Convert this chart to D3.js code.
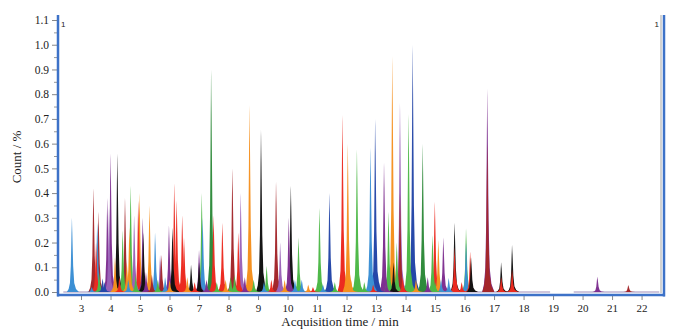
<!DOCTYPE html>
<html><head><meta charset="utf-8">
<script src="https://cdn.jsdelivr.net/npm/d3@7"></script>
<style>
body{margin:0;background:#fff}
svg{display:block}
text{font-family:"Liberation Serif","Times New Roman",serif;fill:#222}
</style>
</head><body>
<svg id="c" width="679" height="331"></svg>
<script>
// ---- data (retention time in min, height in %, colour key) ----
const peakTimes = [
 2.69,3.36,3.42,3.51,3.55,3.59,3.61,3.73,3.80,3.89,3.95,4.00,4.15,4.23,4.30,4.41,4.49,4.55,4.60,4.64,4.68,4.80,4.85,4.94,4.98,
 5.09,5.11,5.20,5.32,5.40,5.51,5.60,5.68,5.72,5.85,5.98,6.00,6.10,6.16,6.24,6.43,6.49,6.60,6.73,6.85,7.00,7.00,7.09,7.12,7.25,
 7.41,7.49,7.60,7.79,7.90,8.07,8.13,8.20,8.33,8.41,8.55,8.71,8.85,9.10,9.20,9.29,9.45,9.61,9.75,9.90,10.04,10.11,10.25,10.37,10.48,
 10.70,10.86,11.08,11.20,11.42,11.60,11.86,12.04,12.15,12.35,12.60,12.81,12.90,12.97,13.10,13.27,13.35,13.42,13.55,13.59,13.70,13.81,13.81,13.90,
 14.10,14.24,14.35,14.58,14.75,14.91,14.99,15.00,15.11,15.20,15.28,15.46,15.66,15.66,15.72,15.90,16.05,16.05,16.19,16.22,16.77,16.77,17.24,17.24,17.61,17.61,
 20.50,21.55
];
const peakHeights = [
 0.30,0.02,0.42,0.20,0.28,0.325,0.08,0.055,0.04,0.38,0.34,0.56,0.14,0.56,0.06,0.25,0.38,0.12,0.05,0.26,0.43,0.31,0.07,0.37,0.40,
 0.30,0.24,0.08,0.35,0.07,0.24,0.05,0.15,0.15,0.06,0.27,0.05,0.26,0.44,0.37,0.31,0.22,0.06,0.11,0.04,0.17,0.12,0.40,0.30,0.05,
 0.90,0.31,0.04,0.28,0.05,0.06,0.50,0.07,0.24,0.40,0.06,0.756,0.05,0.655,0.04,0.105,0.05,0.446,0.20,0.05,0.30,0.43,0.05,0.22,0.05,
 0.03,0.02,0.34,0.03,0.40,0.04,0.716,0.60,0.05,0.577,0.04,0.584,0.03,0.70,0.04,0.524,0.05,0.325,0.954,0.12,0.20,0.765,0.40,0.06,
 0.72,1.00,0.05,0.60,0.06,0.23,0.365,0.04,0.21,0.05,0.22,0.057,0.28,0.18,0.05,0.04,0.257,0.20,0.163,0.14,0.823,0.60,0.12,0.06,0.19,0.09,
 0.062,0.028
];
const peakColors = [
 "blue","blue","darkred","red","blue","darkred","green","navy","navy","purple","lightpurple","purple","orange","black","red","green","darkred","orange","blue","orange","green","lightpurple","green","red","orange",
 "purple","black","purple","orange","darkred","blue","green","lightpurple","darkred","blue","purple","orange","black","red","red","red","red","orange","black","red","purple","black","green","blue","purple",
 "darkgreen","red","green","red","orange","green","darkred","green","red","lightpurple","purple","orange","green","black","blue","green","red","darkred","lightpurple","orange","purple","black","blue","green","blue",
 "orange","red","green","blue","navy","green","red","orange","orange","green","green","blue","red","navy","navy","purple","purple","green","orange","black","green","lightpurple","darkred","red",
 "green","navy","orange","darkgreen","purple","green","red","green","orange","blue","purple","blue","black","red","red","red","green","blue","red","black","purple","darkred","black","red","black","red",
 "purple","darkred"
];
const xTickValues = [3,4,5,6,7,8,9,10,11,12,13,14,15,16,17,18,19,20,21,22];
const yTickValues = [0,0.1,0.2,0.3,0.4,0.5,0.6,0.7,0.8,0.9,1.0,1.1];
const baselineSegments = [[2.4,18.9],[19.7,22.6]];
const xTitle = "Acquisition time / min";
const yTitle = "Count / %";

// ---- styles ----
const palette = {
 blue:"#3b8fd4", red:"#ec2a1f", green:"#4db847", purple:"#7e2f90", lightpurple:"#9a62b8",
 black:"#111111", orange:"#f5901e", darkred:"#a3262a", navy:"#2446a8", darkgreen:"#2e8a3a"
};
// peak template: [offset in min, fraction of height]
const peakShape = [[-0.17,0],[-0.11,0.04],[-0.065,0.12],[-0.036,0.35],[-0.018,0.7],[-0.005,0.96],[0,1],[0.006,0.96],[0.022,0.7],[0.044,0.35],[0.08,0.12],[0.14,0.04],[0.24,0]];

const svg = d3.select("#c");
const x = d3.scaleLinear().domain([2.22,22.76]).range([58,664]);
const y = d3.scaleLinear().domain([0,1.1]).range([292,20]);

const defs = svg.append("defs");
Object.entries(palette).forEach(([k,c])=>{
  const g = defs.append("linearGradient").attr("id","g_"+k).attr("x1",0).attr("y1",0).attr("x2",0).attr("y2",1);
  g.append("stop").attr("offset","0").attr("stop-color",c).attr("stop-opacity",0.55);
  g.append("stop").attr("offset","0.2").attr("stop-color",c).attr("stop-opacity",0.95);
  g.append("stop").attr("offset","1").attr("stop-color",c).attr("stop-opacity",1);
});
defs.append("clipPath").attr("id","clip").append("rect").attr("x",59).attr("y",15).attr("width",603).attr("height",279);

// baseline
svg.append("g").selectAll("line").data(baselineSegments).join("line")
  .attr("x1",d=>x(d[0])).attr("x2",d=>x(d[1])).attr("y1",y(0)).attr("y2",y(0))
  .attr("stroke","#cfc6dc").attr("stroke-width",2);

// peaks
const peaks = peakTimes.map((t,i)=>({t,h:peakHeights[i],c:peakColors[i]}))
  .sort((a,b)=>b.h-a.h);
const area = d3.area().x(d=>x(d[0])).y0(y(0)).y1(d=>y(d[1])).curve(d3.curveLinear);
svg.append("g").attr("clip-path","url(#clip)").selectAll("path").data(peaks).join("path")
  .attr("d",p=>area(peakShape.map(s=>[p.t+s[0], s[1]*p.h])))
  .attr("fill",p=>"url(#g_"+p.c+")");

// y axis
const yAx = svg.append("g").attr("transform","translate(57,0)")
  .call(d3.axisLeft(y).tickValues(yTickValues).tickSize(5).tickPadding(3).tickFormat(d3.format(".1f")));
yAx.select(".domain").remove();
yAx.selectAll("line").attr("stroke","#888");
yAx.selectAll("text").style("font-size","11.5px").style("font-family","Liberation Serif, serif").attr("fill","#222");
const yMin = svg.append("g").attr("transform","translate(57,0)")
  .call(d3.axisLeft(y).tickValues(yTickValues.slice(0,-1).map(v=>v+0.05)).tickSize(3).tickFormat(""));
yMin.select(".domain").remove();
yMin.selectAll("line").attr("stroke","#999");

// x axis
const xAx = svg.append("g").attr("transform","translate(0,296)")
  .call(d3.axisBottom(x).tickValues(xTickValues).tickSize(4).tickPadding(4).tickFormat(d3.format("d")));
xAx.select(".domain").remove();
xAx.selectAll("line").attr("stroke","#888");
xAx.selectAll("text").style("font-size","11px").style("font-family","Liberation Serif, serif").attr("fill","#222");

// frame
const blue = "#3d72c8";
svg.append("line").attr("x1",661).attr("x2",661).attr("y1",15).attr("y2",293).attr("stroke","#c4c4c4").attr("stroke-width",1.5);
svg.append("line").attr("x1",58).attr("x2",58).attr("y1",15).attr("y2",296.5).attr("stroke",blue).attr("stroke-width",2.5);
svg.append("line").attr("x1",664).attr("x2",664).attr("y1",15).attr("y2",296.5).attr("stroke",blue).attr("stroke-width",2.5);
svg.append("line").attr("x1",57).attr("x2",665).attr("y1",295).attr("y2",295).attr("stroke",blue).attr("stroke-width",2.5);
svg.append("text").attr("x",61).attr("y",27).text("1").style("font-family","Liberation Sans, sans-serif").style("font-size","8px").attr("fill","#999");
svg.append("text").attr("x",659).attr("y",27).attr("text-anchor","end").text("1").style("font-family","Liberation Sans, sans-serif").style("font-size","8px").attr("fill","#999");

// titles
svg.append("text").attr("x",340).attr("y",326).attr("text-anchor","middle").style("font-size","13px").text(xTitle);
svg.append("text").attr("transform","translate(21,157) rotate(-90)").attr("text-anchor","middle").style("font-size","13px").text(yTitle);
</script>
</body></html>
